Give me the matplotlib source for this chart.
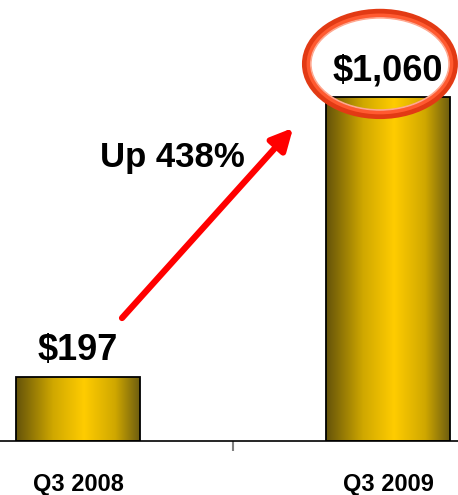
import matplotlib
matplotlib.use("Agg")
import matplotlib.pyplot as plt
import numpy as np
from matplotlib.colors import LinearSegmentedColormap
from matplotlib.patches import Rectangle, Ellipse

plt.rcParams['font.family'] = ['Liberation Sans', 'DejaVu Sans']
plt.rcParams['font.weight'] = 'bold'

quarters = ['Q3 2008', 'Q3 2009']
revenue = [197, 1060]
value_labels = ['$197', '$1,060']

growth = round((revenue[1] - revenue[0]) / revenue[0] * 100)

fig = plt.figure(figsize=(4.58, 4.95), dpi=100)
ax = fig.add_axes([0, 54 / 495, 1, 441 / 495])

bar_w = 0.4
gold = LinearSegmentedColormap.from_list(
    'gold', [(0, '#64530a'), (0.3, '#d0a800'), (0.55, '#ffcc00'),
             (0.8, '#d0a800'), (1, '#6e5e10')])
grad = np.linspace(0, 1, 256).reshape(1, -1)

x = np.arange(len(quarters))
for xi, v, lab in zip(x, revenue, value_labels):
    x0, x1 = xi - bar_w / 2, xi + bar_w / 2
    ax.imshow(grad, cmap=gold, aspect='auto', extent=[x0, x1, 0, v],
              zorder=2, interpolation='bicubic')
    ax.add_patch(Rectangle((x0, 0), bar_w, v, fill=False,
                           edgecolor='black', linewidth=1.3, zorder=3))
    ax.annotate(lab, (xi, v), xytext=(0, 19), textcoords='offset points',
                ha='center', va='center', fontsize=26, fontweight='bold')
    ax.annotate(quarters[xi], (xi, 0),
                xytext=(0, -31), textcoords='offset points',
                ha='center', va='center', fontsize=17, fontweight='bold',
                annotation_clip=False)

# growth arrow between the two quarters
ax.annotate('', xy=(0.694, 965), xytext=(0.142, 379),
            arrowprops=dict(arrowstyle='-|>,head_length=1.3,head_width=0.65',
                            color='#ff0000', lw=4.5, shrinkA=0, shrinkB=0))
ax.text(0.305, 875, f'Up {growth}%', ha='center', va='center',
        fontsize=25, fontweight='bold')

# highlight ring around the Q3 2009 figure
ax.add_patch(Ellipse((0.974, 1162), 0.474, 312, fill=False,
                     edgecolor='#e23a14', linewidth=6.5, zorder=5))
ax.add_patch(Ellipse((0.974, 1162), 0.462, 300, fill=False,
                     edgecolor='#ff5a30', linewidth=2.5, zorder=6))
ax.add_patch(Ellipse((0.974, 1162), 0.446, 284, fill=False,
                     edgecolor='#ffa890', linewidth=1.2, zorder=6))

ax.set_xlim(-78 / 310, 380 / 310)
ax.set_ylim(0, 441 / 0.3245)
for s in ['top', 'right', 'left']:
    ax.spines[s].set_visible(False)
ax.spines['bottom'].set_linewidth(1.2)
ax.set_yticks([])
ax.set_xticks([0.5], [''])
ax.tick_params(axis='x', length=7, width=1.5, color='#808080', direction='out')

fig.savefig('out.png', dpi=100, facecolor='white')
